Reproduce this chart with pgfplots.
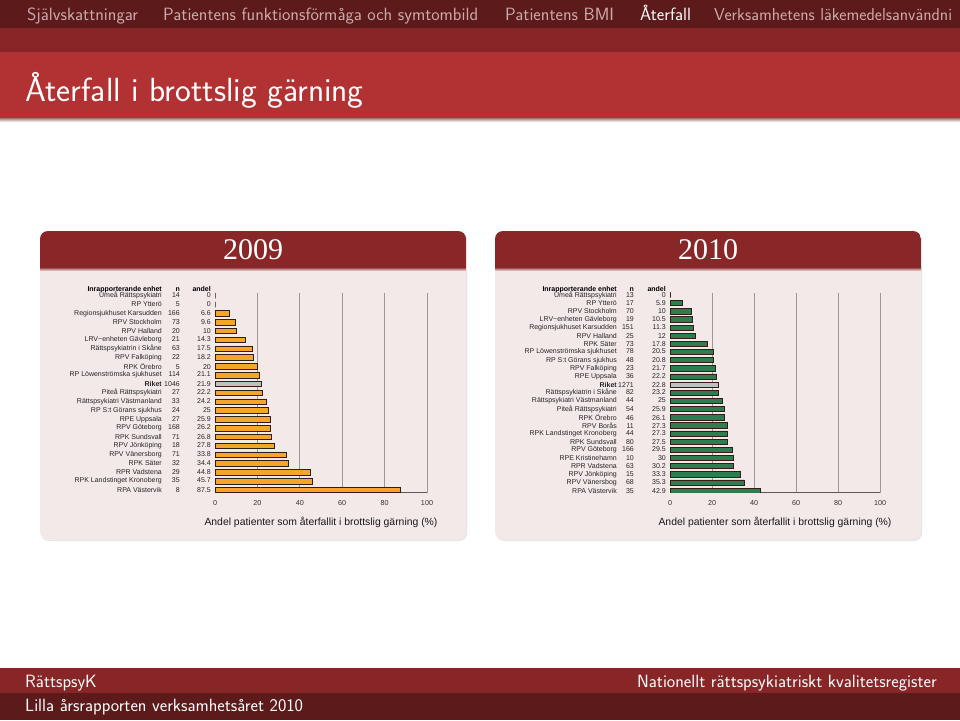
\documentclass[border=0pt]{standalone}
\usepackage{pgfplots}
\pgfplotsset{compat=1.18}
\usepackage{fontspec}
\setmainfont{Liberation Sans}
\newfontfamily\serifyear{Liberation Serif}
\definecolor{navdark}{RGB}{92,26,27}
\definecolor{navred}{RGB}{135,37,39}
\definecolor{titlered}{RGB}{178,50,51}
\definecolor{blockhdr}{RGB}{137,38,40}
\definecolor{blockbody}{RGB}{243,233,233}
\definecolor{navtext}{RGB}{205,170,170}
\definecolor{barorange}{RGB}{243,166,42}
\definecolor{bargreen}{RGB}{46,125,80}
\definecolor{bargray}{RGB}{192,192,192}
\definecolor{barline}{RGB}{50,30,20}
\newcommand{\RA}[3]{\makebox[0pt][r]{#1}\makebox[18pt][r]{#2}\makebox[31pt][r]{#3}}
\newcommand{\RB}[3]{\makebox[0pt][r]{#1}\makebox[17pt][r]{#2}\makebox[32pt][r]{#3}}
\newcommand{\chartfont}{\fontsize{7}{8}\selectfont}
\pgfplotsset{
  slidebars/.style={
    scale only axis, height=200pt,
    xmin=0, xmax=100,
    axis lines*=left, axis line style={-},
    y axis line style={draw=none},
    x axis line style={draw=black!65, line width=0.8pt},
    xtick={20,40,60,80,100}, extra x ticks={0},
    extra x tick style={xmajorgrids=false},
    xmajorgrids, major grid style={draw=black!40, line width=0.9pt},
    major tick length=0pt, tick style={draw=none},
    /pgf/number format/assume math mode=true,
    xticklabel style={font=\fontsize{7.2}{8}\selectfont, text=black!80, yshift=-4pt},
    yticklabel style={anchor=east, inner sep=0pt, xshift=-4pt, font=\chartfont, text=black!85},
    xlabel={Andel patienter som återfallit i brottslig gärning (\%)},
    xlabel style={font=\fontsize{10.4}{12}\selectfont, text=black!90, yshift=-5pt},
    xbar,
  }
}
\begin{document}
\begin{tikzpicture}
\begin{scope}[x=1pt,y=-1pt]
\useasboundingbox (0,0) rectangle (960,720);
\fill[white] (0,0) rectangle (960,720);
\begin{scope}
\clip (0,0) rectangle (960,720);
\fill[navdark] (0,0) rectangle (960,28);
\fill[navred] (0,28) rectangle (960,52);
\fill[titlered] (0,52) rectangle (960,118);
\shade[top color=black!45!titlered!60, bottom color=white] (0,118) rectangle (960,122);
\begin{scope}[every node/.style={anchor=base west, inner sep=0pt, font=\sffamily\fontsize{17.8}{20}\selectfont, text=navtext}]
\node at (27,20) {Självskattningar};
\node at (163,20) {Patientens funktionsförmåga och symtombild};
\node at (505,20) {Patientens BMI};
\node[text=white] at (640,20) {Återfall};
\node[font=\sffamily\fontsize{17.2}{20}\selectfont] at (714,20) {Verksamhetens läkemedelsanvändni};
\end{scope}
\node[anchor=base west, inner sep=0pt, font=\sffamily\fontsize{33.5}{38}\selectfont, text=white] at (25,101) {Återfall i brottslig gärning};
% footer
\fill[navred] (0,668) rectangle (960,693);
\fill[navdark] (0,693) rectangle (960,720);
\node[anchor=base west, inner sep=0pt, font=\sffamily\fontsize{17.8}{20}\selectfont, text=white] at (25,687) {RättspsyK};
\node[anchor=base east, inner sep=0pt, font=\sffamily\fontsize{17.8}{20}\selectfont, text=white] at (937,687) {Nationellt rättspsykiatriskt kvalitetsregister};
\node[anchor=base west, inner sep=0pt, font=\sffamily\fontsize{17.8}{20}\selectfont, text=white] at (25,711) {Lilla årsrapporten verksamhetsåret 2010};
\end{scope}
% blocks
\foreach \xa/\xb/\yr in {40/466/2009, 495/921/2010} {
  \fill[black!10, rounded corners=8pt] (\xa+1,232) rectangle (\xb+1,541);
  \fill[blockbody, rounded corners=8pt] (\xa,231) rectangle (\xb,540);
  \begin{scope}
    \clip[rounded corners=8pt] (\xa,231) rectangle (\xb,540);
    \fill[blockhdr] (\xa,231) rectangle (\xb,267);
    \shade[top color=blockhdr, bottom color=blockbody] (\xa,267) rectangle (\xb,271);
  \end{scope}
  \node[text=white, font=\serifyear\fontsize{30}{34}\selectfont] at ({(\xa+\xb)/2},250) {\yr};
}
\node[anchor=east, inner sep=0pt, font=\bfseries\chartfont] at (211,290) {\RA{Inrapporterande enhet}{n}{andel}};
\node[anchor=east, inner sep=0pt, font=\bfseries\chartfont] at (666,290) {\RB{Inrapporterande enhet}{n}{andel}};
\end{scope}

% ---------- 2009 ----------
\begin{axis}[slidebars, at={(215pt,-492.7pt)}, anchor=south west, width=212pt,
  ymin=-22.31, ymax=0.34,
  ytick={0,-1,...,-22},
  yticklabels={
    {\RA{Umeå Rättspsykiatri}{14}{0}},
    {\RA{RP Ytterö}{5}{0}},
    {\RA{Regionsjukhuset Karsudden}{166}{6.6}},
    {\RA{RPV Stockholm}{73}{9.6}},
    {\RA{RPV Halland}{20}{10}},
    {\RA{LRV−enheten Gävleborg}{21}{14.3}},
    {\RA{Rättspsykiatrin i Skåne}{63}{17.5}},
    {\RA{RPV Falköping}{22}{18.2}},
    {\RA{RPK Örebro}{5}{20}},
    {\RA{RP Löwenströmska sjukhuset}{114}{21.1}},
    {\RA{\textbf{Riket}}{1046}{21.9}},
    {\RA{Piteå Rättspsykiatri}{27}{22.2}},
    {\RA{Rättspsykiatri Västmanland}{33}{24.2}},
    {\RA{RP S:t Görans sjukhus}{24}{25}},
    {\RA{RPE Uppsala}{27}{25.9}},
    {\RA{RPV Göteborg}{168}{26.2}},
    {\RA{RPK Sundsvall}{71}{26.8}},
    {\RA{RPV Jönköping}{18}{27.8}},
    {\RA{RPV Vänersborg}{71}{33.8}},
    {\RA{RPK Säter}{32}{34.4}},
    {\RA{RPR Vadstena}{29}{44.8}},
    {\RA{RPK Landstinget Kronoberg}{35}{45.7}},
    {\RA{RPA Västervik}{8}{87.5}}},
]
\addplot[xbar, bar shift=0pt, bar width=5.5pt, fill=barorange, draw=barline, line width=0.7pt] coordinates {
  (0,0) (0,-1) (6.6,-2) (9.6,-3) (10,-4) (14.3,-5) (17.5,-6) (18.2,-7) (20,-8) (21.1,-9)
  (22.2,-11) (24.2,-12) (25,-13) (25.9,-14) (26.2,-15) (26.8,-16) (27.8,-17) (33.8,-18)
  (34.4,-19) (44.8,-20) (45.7,-21) (87.5,-22)};
\addplot[xbar, bar shift=0pt, bar width=5.5pt, fill=bargray, draw=barline, line width=0.7pt] coordinates {(21.9,-10)};
\end{axis}

% ---------- 2010 ----------
\begin{axis}[slidebars, at={(670pt,-492.7pt)}, anchor=south west, width=210pt,
  ymin=-24.25, ymax=0.28,
  ytick={0,-1,...,-24},
  yticklabels={
    {\RB{Umeå Rättspsykiatri}{13}{0}},
    {\RB{RP Ytterö}{17}{5.9}},
    {\RB{RPV Stockholm}{70}{10}},
    {\RB{LRV−enheten Gävleborg}{19}{10.5}},
    {\RB{Regionsjukhuset Karsudden}{151}{11.3}},
    {\RB{RPV Halland}{25}{12}},
    {\RB{RPK Säter}{73}{17.8}},
    {\RB{RP Löwenströmska sjukhuset}{78}{20.5}},
    {\RB{RP S:t Görans sjukhus}{48}{20.8}},
    {\RB{RPV Falköping}{23}{21.7}},
    {\RB{RPE Uppsala}{36}{22.2}},
    {\RB{\textbf{Riket}}{1271}{22.8}},
    {\RB{Rättspsykiatrin i Skåne}{82}{23.2}},
    {\RB{Rättspsykiatri Västmanland}{44}{25}},
    {\RB{Piteå Rättspsykiatri}{54}{25.9}},
    {\RB{RPK Örebro}{46}{26.1}},
    {\RB{RPV Borås}{11}{27.3}},
    {\RB{RPK Landstinget Kronoberg}{44}{27.3}},
    {\RB{RPK Sundsvall}{80}{27.5}},
    {\RB{RPV Göteborg}{166}{29.5}},
    {\RB{RPE Kristinehamn}{10}{30}},
    {\RB{RPR Vadstena}{63}{30.2}},
    {\RB{RPV Jönköping}{15}{33.3}},
    {\RB{RPV Vänersbog}{68}{35.3}},
    {\RB{RPA Västervik}{35}{42.9}}},
]
\addplot[xbar, bar shift=0pt, bar width=5.2pt, fill=bargreen, draw=barline, line width=0.7pt] coordinates {
  (0,0) (5.9,-1) (10,-2) (10.5,-3) (11.3,-4) (12,-5) (17.8,-6) (20.5,-7) (20.8,-8) (21.7,-9)
  (22.2,-10) (23.2,-12) (25,-13) (25.9,-14) (26.1,-15) (27.3,-16) (27.3,-17) (27.5,-18)
  (29.5,-19) (30,-20) (30.2,-21) (33.3,-22) (35.3,-23) (42.9,-24)};
\addplot[xbar, bar shift=0pt, bar width=5.2pt, fill=bargray, draw=barline, line width=0.7pt] coordinates {(22.8,-11)};
\end{axis}
\end{tikzpicture}
\end{document}
